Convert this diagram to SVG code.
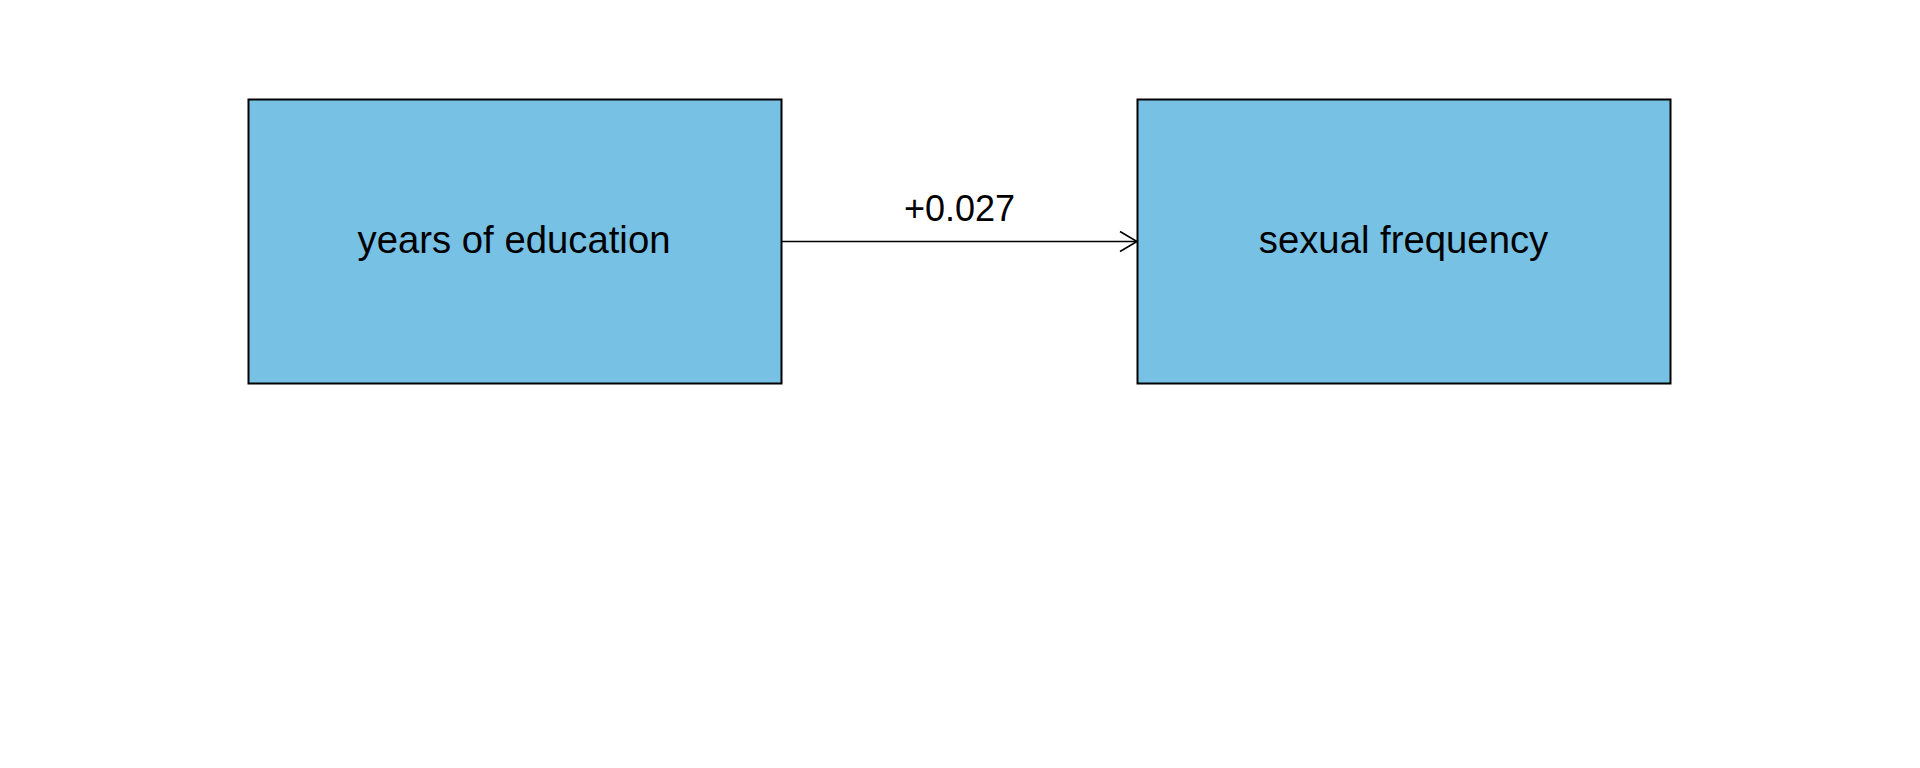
<svg xmlns="http://www.w3.org/2000/svg" width="1920" height="768" viewBox="0 0 1920 768">
<style>
.node{fill:#77c1e5;stroke:#000;stroke-width:2}
.lbl{font-family:"Liberation Sans",Arial,sans-serif;font-size:38.3px;fill:#000;text-anchor:middle}
.elbl{font-family:"Liberation Sans",Arial,sans-serif;font-size:36px;fill:#000;text-anchor:middle}
.edge{stroke:#000;stroke-width:1.6;fill:none}
</style>
<rect width="1920" height="768" fill="#fff"/>
<g id="node-education">
<rect class="node" x="248.5" y="99.5" width="533" height="284"/>
<text class="lbl" x="514" y="253">years of education</text>
</g>
<g id="node-frequency">
<rect class="node" x="1137.5" y="99.5" width="533" height="284"/>
<text class="lbl" x="1403.5" y="253">sexual frequency</text>
</g>
<g id="connectors">
<line class="edge" x1="781.5" y1="241.5" x2="1137" y2="241.5"/>
<polyline class="edge" points="1120,231.5 1137,241.5 1120,251.5"/>
<text class="elbl" x="959.5" y="221">+0.027</text>
</g>
</svg>
